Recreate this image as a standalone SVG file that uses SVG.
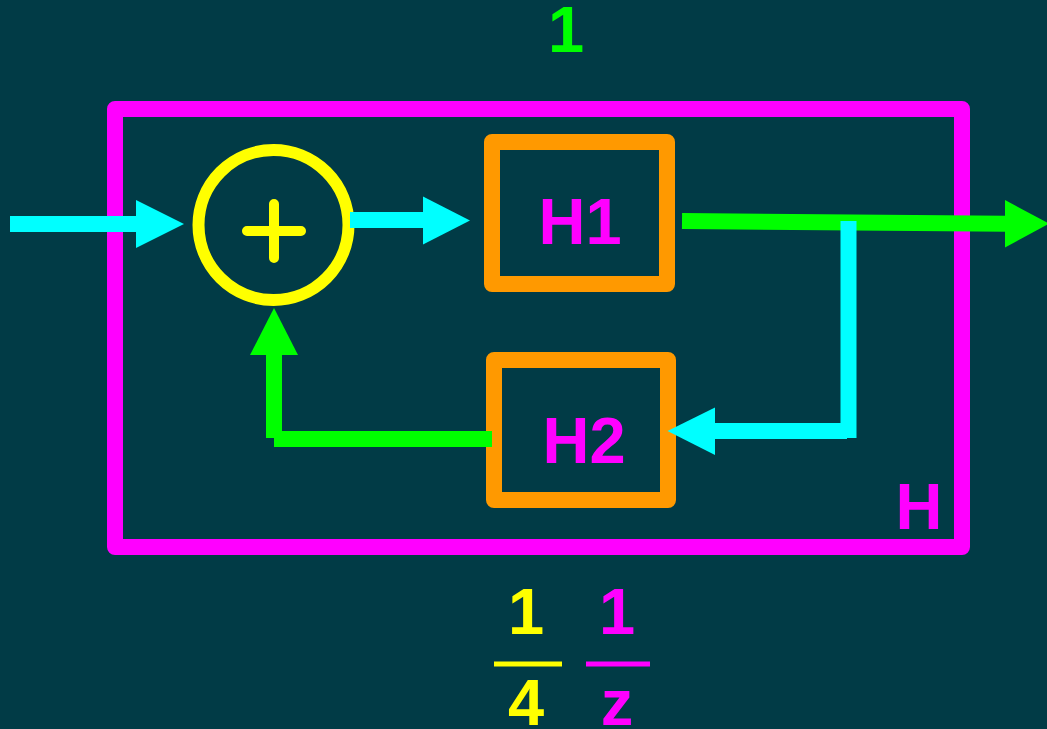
<svg xmlns="http://www.w3.org/2000/svg" width="1047" height="729" viewBox="0 0 1047 729">
<style>
.t{font-family:"Liberation Sans",Arial,sans-serif;font-weight:bold;font-size:65px;text-anchor:middle}
.box{fill:none;stroke:#ff9900;stroke-width:16;stroke-linejoin:round}
.ln{fill:none;stroke-width:16;stroke-linecap:butt}
</style>
<rect width="1047" height="729" fill="#013b46"/>
<g id="H">
<rect x="115" y="109" width="847" height="438" fill="none" stroke="#ff00ff" stroke-width="16" stroke-linejoin="round"/>
<text class="t" x="919" y="529" fill="#ff00ff">H</text>
</g>
<g id="label-top">
<text class="t" x="566" y="52" fill="#00ff00">1</text>
</g>
<g id="sum">
<circle cx="273.5" cy="225" r="75" fill="none" stroke="#ffff00" stroke-width="12"/>
<path d="M247 231H301M274 204V258" stroke="#ffff00" stroke-width="10" stroke-linecap="round"/>
</g>
<g id="H1">
<rect class="box" x="492" y="142" width="175" height="142"/>
<text class="t" x="580" y="244" fill="#ff00ff">H1</text>
</g>
<g id="H2">
<rect class="box" x="494" y="360" width="174" height="140"/>
<text class="t" x="584" y="463" fill="#ff00ff">H2</text>
</g>
<g id="connectors">
<path class="ln" d="M10 224H137" stroke="#00ffff"/>
<polygon points="136,200 184,224 136,248" fill="#00ffff"/>
<path class="ln" d="M350 220H424" stroke="#00ffff"/>
<polygon points="423,196.5 470,220.5 423,244.5" fill="#00ffff"/>
<path class="ln" d="M682 221L1006 223.7" stroke="#00ff00"/>
<polygon points="1005,200 1049,223.7 1005,247.5" fill="#00ff00"/>
<path class="ln" d="M848.5 221V438" stroke="#00ffff"/>
<path class="ln" d="M847 431H714" stroke="#00ffff"/>
<polygon points="715,407.5 667.5,431 715,455" fill="#00ffff"/>
<path class="ln" d="M492 439H274" stroke="#00ff00"/>
<path class="ln" d="M274 438V354" stroke="#00ff00"/>
<polygon points="250,355 274,308 298,355" fill="#00ff00"/>
</g>
<g id="fractions">
<text class="t" x="526" y="634" fill="#ffff00">1</text>
<line x1="494" y1="664" x2="562" y2="664" stroke="#ffff00" stroke-width="5"/>
<text class="t" x="526" y="725" fill="#ffff00">4</text>
<text class="t" x="617" y="634" fill="#ff00ff">1</text>
<line x1="586" y1="664" x2="650" y2="664" stroke="#ff00ff" stroke-width="5"/>
<text class="t" x="617" y="725" fill="#ff00ff">z</text>
</g>
</svg>
